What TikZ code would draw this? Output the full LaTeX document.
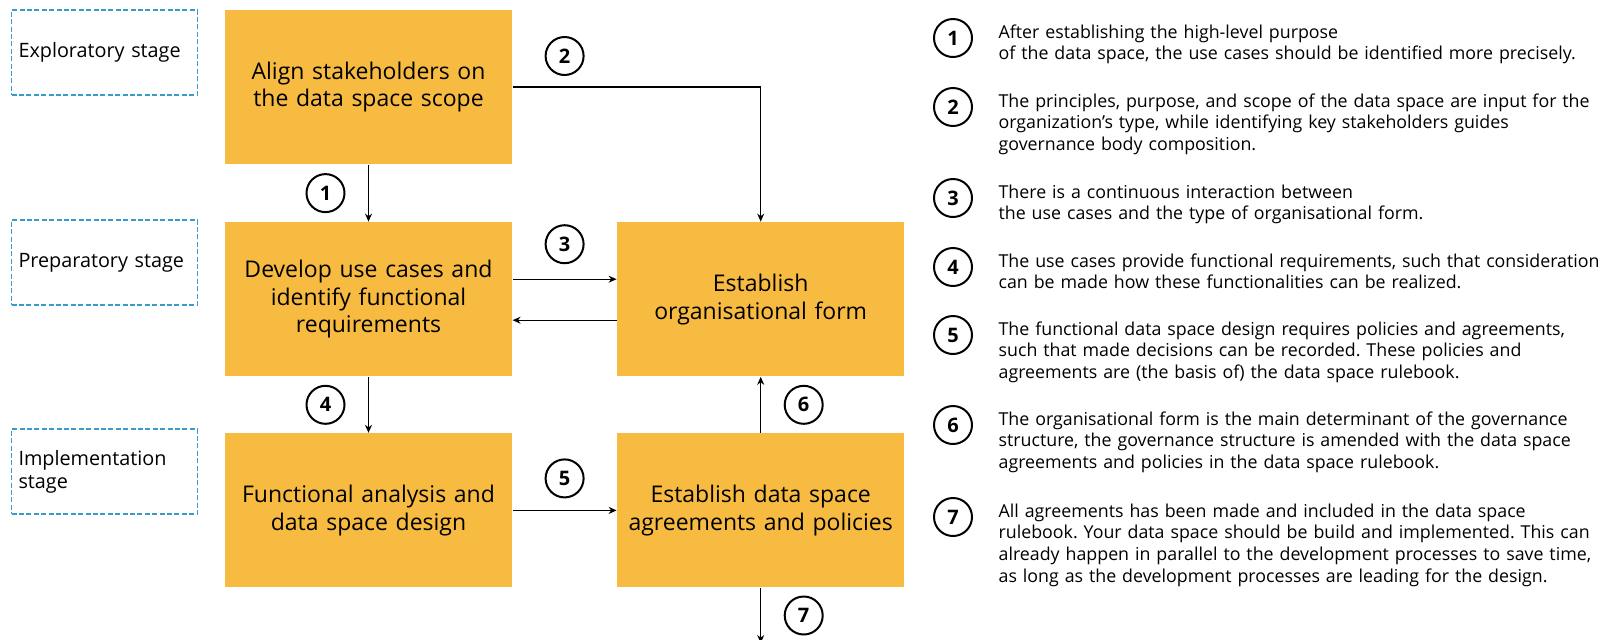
\documentclass[tikz,border=0pt]{standalone}
\usepackage{fontspec}
\setmainfont{Open Sans}
\usetikzlibrary{positioning,arrows.meta}
\frenchspacing
\definecolor{boxorange}{RGB}{248,187,65}
\definecolor{stageblue}{RGB}{58,154,201}
\tikzset{
	stepbox/.style={fill=boxorange, minimum width=143.5pt, minimum height=77pt,
		text width=140pt, align=center, inner sep=0pt,
		font=\fontsize{11.5}{13.85}\selectfont},
	stagebox/.style={draw=stageblue, dash pattern=on 2.5pt off 1.2pt, line width=0.6pt,
		minimum width=92.5pt, minimum height=42.5pt, text width=86pt,
		inner xsep=3.5pt, inner ysep=0pt, align=left,
		font=\fontsize{9.9}{11.5}\selectfont},
	num/.style={circle, draw, line width=1pt, minimum size=19pt, inner sep=0pt,
		font=\fontsize{10}{10}\selectfont\bfseries},
	legend/.style={anchor=base west, text width=330pt, align=left, inner sep=0pt,
		font=\fontsize{8.9}{10.85}\selectfont},
}

\begin{document}
\begin{tikzpicture}[x=0.5pt, y=-0.5pt, line width=0.6pt,
		>={Stealth[length=4pt,width=3.5pt]}]
	\useasboundingbox (0,0) rectangle (1602,639);

	% stages
	\node (explor) [stagebox] at (104.5,52.5) {Exploratory stage};
	\node (prep) [stagebox] at (104.5,262.5) {Preparatory stage};
	\node (impl) [stagebox] at (104.5,471.5) {Implementation\\stage};

	% process steps
	\node (align) [stepbox] at (368.5,87) {Align stakeholders on\\the data space scope};
	\node (develop) [stepbox, below=28.5pt of align] {Develop use cases and\\identify functional\\requirements};
	\node (funcdesign) [stepbox, below=28pt of develop] {Functional analysis and\\data space design};
	\node (orgform) [stepbox, right=52pt of develop] {Establish\\organisational form};
	\node (agreements) [stepbox, right=52pt of funcdesign] {Establish data space\\agreements and policies};
	\coordinate (corner) at (align.east -| orgform.north);
	\coordinate[below=27.5pt of agreements.south] (done);

	\draw[->] (align) -- node (c1) [num, left=11.5pt] {1} (develop);
	\draw[->] ([yshift=10pt]develop.east) -- node (c3) [num, above=7.5pt] {3} ([yshift=10pt]orgform.west);
	\draw[->] ([yshift=-10.5pt]orgform.west) -- ([yshift=-10.5pt]develop.east);
	\node (c2) [num, above=5.5pt] at (align.east -| c3) {2};
	\draw[line width=1.4pt] (align.east) -- (corner);
	\draw[->] (corner) -- (orgform.north);
	\draw[->] (develop) -- node (c4) [num, left=11.5pt] {4} (funcdesign);
	\draw[->] (funcdesign) -- node (c5) [num, above=6pt] {5} (agreements);
	\draw[->] (agreements) -- node (c6) [num, right=11.5pt] {6} (orgform);
	\draw[->] (agreements) -- node (c7) [num, right=11.5pt] {7} (done);

	% legend
	\node (l1) [num] at (953,38) {1};
	\node (t1) [legend] at (998,38) {After establishing the high-level purpose\\of the data space, the use cases should be identified more precisely.};
	\node (l2) [num] at (953,107) {2};
	\node (t2) [legend] at (998,107) {The principles, purpose, and scope of the data space are input for the\\organization's type, while identifying key stakeholders guides\\governance body composition.};
	\node (l3) [num] at (953,198) {3};
	\node (t3) [legend] at (998,198) {There is a continuous interaction between\\the use cases and the type of organisational form.};
	\node (l4) [num] at (953,267) {4};
	\node (t4) [legend] at (998,267) {The use cases provide functional requirements, such that consideration\\can be made how these functionalities can be realized.};
	\node (l5) [num] at (953,335) {5};
	\node (t5) [legend] at (998,335) {The functional data space design requires policies and agreements,\\such that made decisions can be recorded. These policies and\\agreements are (the basis of) the data space rulebook.};
	\node (l6) [num] at (953,425) {6};
	\node (t6) [legend] at (998,425) {The organisational form is the main determinant of the governance\\structure, the governance structure is amended with the data space\\agreements and policies in the data space rulebook.};
	\node (l7) [num] at (953,517) {7};
	\node (t7) [legend] at (998,517) {All agreements has been made and included in the data space\\rulebook. Your data space should be build and implemented. This can\\already happen in parallel to the development processes to save time,\\as long as the development processes are leading for the design.};
\end{tikzpicture}
\end{document}
